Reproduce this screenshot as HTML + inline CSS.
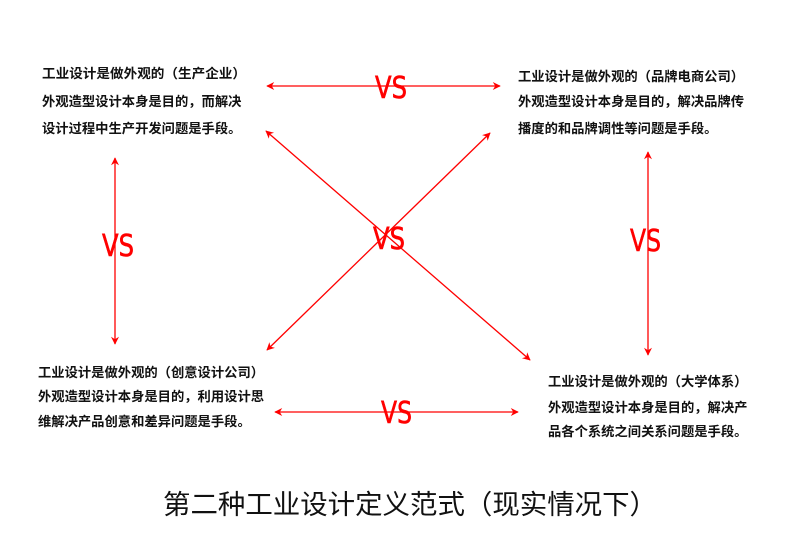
<!DOCTYPE html>
<html><head><meta charset="utf-8"><style>
html,body{margin:0;padding:0;background:#fff;}
svg{display:block;}
.t{font-family:"Liberation Sans","Noto Sans CJK SC",sans-serif;font-size:13.3px;font-weight:bold;fill:#111;}
.vs{font-family:"DejaVu Sans","Liberation Sans",sans-serif;font-size:30px;fill:#f00;stroke:#f00;stroke-width:0.6;}
.ti{font-family:"Liberation Sans","Noto Sans CJK SC",sans-serif;font-size:27px;fill:#111;}
</style></head><body>
<svg width="785" height="555" viewBox="0 0 785 555" xmlns="http://www.w3.org/2000/svg">
<defs>
<marker id="a" viewBox="0 0 10 10" refX="9" refY="5" markerWidth="10" markerHeight="8" orient="auto-start-reverse" markerUnits="userSpaceOnUse">
<path d="M0,0 L10,5 L0,10 L3,5 Z" fill="#f00"/></marker>
</defs>
<g stroke="#f00" stroke-width="1.3" fill="none" marker-start="url(#a)" marker-end="url(#a)">
<line x1="267" y1="86" x2="500" y2="86"/>
<line x1="266" y1="131" x2="530" y2="360"/>
<line x1="490" y1="133" x2="267" y2="350"/>
<line x1="115" y1="158" x2="115" y2="344"/>
<line x1="648" y1="152" x2="648" y2="355"/>
<line x1="275" y1="412" x2="518" y2="412"/>
</g>
<text class="vs" x="375" y="98" textLength="32" lengthAdjust="spacingAndGlyphs">VS</text>
<text class="vs" x="373" y="249" textLength="32" lengthAdjust="spacingAndGlyphs">VS</text>
<text class="vs" x="102" y="256" textLength="32" lengthAdjust="spacingAndGlyphs">VS</text>
<text class="vs" x="630" y="251" textLength="31" lengthAdjust="spacingAndGlyphs">VS</text>
<text class="vs" x="381" y="423" textLength="31" lengthAdjust="spacingAndGlyphs">VS</text>

<text class="t" x="42" y="78" textLength="204" lengthAdjust="spacingAndGlyphs">工业设计是做外观的（生产企业）</text>
<text class="t" x="42" y="106">外观造型设计本身是目的，而解决</text>
<text class="t" x="42" y="133">设计过程中生产开发问题是手段。</text>

<text class="t" x="518" y="81">工业设计是做外观的（品牌电商公司）</text>
<text class="t" x="518" y="106">外观造型设计本身是目的，解决品牌传</text>
<text class="t" x="518" y="133">播度的和品牌调性等问题是手段。</text>

<text class="t" x="38" y="377">工业设计是做外观的（创意设计公司）</text>
<text class="t" x="38" y="401">外观造型设计本身是目的，利用设计思</text>
<text class="t" x="38" y="426">维解决产品创意和差异问题是手段。</text>

<text class="t" x="548" y="386">工业设计是做外观的（大学体系）</text>
<text class="t" x="548" y="412">外观造型设计本身是目的，解决产</text>
<text class="t" x="548" y="436">品各个系统之间关系问题是手段。</text>

<text class="ti" x="163" y="514" textLength="494" lengthAdjust="spacingAndGlyphs">第二种工业设计定义范式（现实情况下）</text>
</svg>
</body></html>
